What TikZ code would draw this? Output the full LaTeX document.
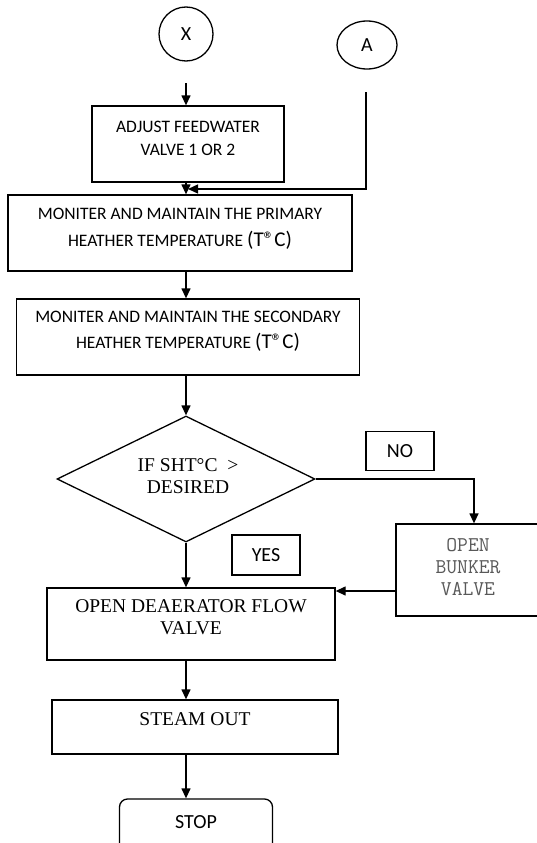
\documentclass[tikz,border=0pt]{standalone}
\usepackage{fontspec}
\setmainfont{Liberation Serif}
\setsansfont{Carlito}
\usetikzlibrary{arrows.meta,shapes.geometric}

\begin{document}
\begin{tikzpicture}[x=1pt,y=-1pt]
  \tikzstyle{box}    = [draw,line width=1.3pt,inner sep=0pt]
  \tikzstyle{calib}  = [font=\sffamily\fontsize{17.5}{23}\selectfont,align=center]
  \tikzstyle{tag}    = [box,font=\sffamily\fontsize{20}{24}\selectfont]
  \tikzstyle{times}  = [font=\fontsize{19.5}{22}\selectfont,align=center]
  \tikzstyle{mono}   = [font=\ttfamily\fontsize{21}{22}\selectfont,align=center,text=black!65]
  \tikzstyle{flow}   = [line width=1.3pt,-{Triangle[length=10pt,width=9pt]}]
  \useasboundingbox (0,0) rectangle (537,843);
  \clip (0,0) rectangle (537,843);
  % connectors in
  \path (186,34) node[tag,circle,minimum size=54](X) {X};
  \path (367,45) node[tag,ellipse,minimum width=60,minimum height=48](A) {A};
  \coordinate (xin) at (186,83);
  \coordinate (ain) at (366,92);
  \coordinate (join) at (188,189);
  % boxes of the main column
  \path (188,144) node[box,minimum width=192,minimum height=76](adj) {};
  \path (188,138) node[calib](adjT) {ADJUST FEEDWATER\\VALVE 1 OR 2};
  \path (180,233) node[box,minimum width=344,minimum height=76](prim) {};
  \path (180,229) node[calib](primT) {MONITER AND MAINTAIN THE PRIMARY\\[4pt]
    HEATHER TEMPERATURE {\fontsize{21}{24}\selectfont(T®C)}};
  \path (188,337) node[box,minimum width=343,minimum height=76](secd) {};
  \path (188,331) node[calib](secdT) {MONITER AND MAINTAIN THE SECONDARY\\[3pt]
    HEATHER TEMPERATURE {\fontsize{21}{24}\selectfont(T®C)}};
  \path (186,479) node[box,diamond,minimum width=258,minimum height=126](ifsht) {};
  \path (188,476) node[times](ifshtT) {IF SHT°C\ \ >\\DESIRED};
  \path (400,451) node[tag,minimum width=68,minimum height=39](no) {NO};
  \path (474,570) node[box,minimum width=156,minimum height=92](bunk) {};
  \path (468,567) node[mono](bunkT) {OPEN\\BUNKER\\VALVE};
  \path (266,555) node[tag,minimum width=68,minimum height=40](yes) {YES};
  \path (191,624) node[box,minimum width=288,minimum height=72](dea) {};
  \path (191,617) node[times](deaT) {OPEN DEAERATOR FLOW\\VALVE};
  \path (195,727) node[box,minimum width=286,minimum height=54](steam) {};
  \path (195,719) node[times](steamT) {STEAM OUT};
  \path (196,835) node[box,rounded corners=8,minimum width=153,minimum height=72](stop) {};
  \path (196,822) node[calib,font=\sffamily\fontsize{20}{24}\selectfont](stopT) {STOP};
  \coordinate (bk) at (396,591);
  % arrows
  \draw[flow] (xin) -- (xin |- adj.north);
  \draw[flow] (xin |- adj.south) -- (xin |- prim.north);
  \draw[flow] (ain) |- (join);
  \draw[flow] (xin |- prim.south) -- (xin |- secd.north);
  \draw[flow] (xin |- secd.south) -- (ifsht.north);
  \draw[flow] (ifsht.east) -| (bunk.north);
  \draw[flow] (ifsht.south) -- (xin |- dea.north);
  \draw[flow] (bk) -- (bk -| dea.east);
  \draw[flow] (xin |- dea.south) -- (xin |- steam.north);
  \draw[flow] (xin |- steam.south) -- (xin |- stop.north);
\end{tikzpicture}
\end{document}
